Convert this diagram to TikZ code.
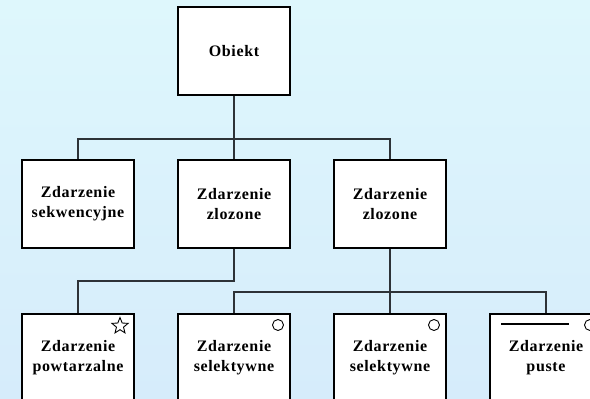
\documentclass[tikz,border=0pt]{standalone}
\usepackage{fontspec}
\setmainfont{Liberation Serif}
\usetikzlibrary{shapes.geometric}
\definecolor{bgtop}{RGB}{222,247,252}
\definecolor{bgbottom}{RGB}{214,236,251}
\definecolor{linegray}{RGB}{45,50,55}
\newcommand{\evfont}{\bfseries\fontsize{16}{20}\selectfont\addfontfeatures{LetterSpace=4}}

\begin{document}
\begin{tikzpicture}[x=1pt,y=-1pt,
   box/.style={draw,fill=white,line width=1.2pt,minimum width=112pt,minimum height=88pt,
               inner sep=0pt,align=center,font=\evfont},
   link/.style={draw=linegray,line width=1.3pt},
   dot/.style={circle,draw,line width=0.9pt,minimum size=11pt,inner sep=0pt}]
   \clip (0,0) rectangle (590,399);
   \shade[top color=bgtop,bottom color=bgbottom] (0,0) rectangle (590,399);
   \node (v0) at (234, 51) [box] {Obiekt};
   \node (v1) at ( 78,204) [box] {Zdarzenie\\sekwencyjne};
   \node (v2) at (234,204) [box] {Zdarzenie\\zlozone};
   \node (v3) at (390,204) [box] {Zdarzenie\\zlozone};
   \node (v4) at ( 78,358) [box] {Zdarzenie\\powtarzalne};
   \node (v5) at (234,358) [box] {Zdarzenie\\selektywne};
   \node (v6) at (390,358) [box] {Zdarzenie\\selektywne};
   \node (v7) at (546,358) [box] {Zdarzenie\\puste};
   \coordinate (h0) at (234,139);
   \coordinate (h1) at (234,281);
   \coordinate (h2) at (390,292);
   \draw[link] (v0) -- (v2);
   \draw[link] (v1.north) |- (h0) -| (v3.north);
   \draw[link] (v2) -- (h1) -| (v4.north);
   \draw[link] (v3) -- (v6);
   \draw[link] (v5.north) |- (h2) -| (v7.north);
   \node (s4) at (120,326) [star,star points=5,star point ratio=2.3,draw,line width=0.9pt,
                            minimum size=17pt,inner sep=0pt] {};
   \node (c5) at (278,325) [dot] {};
   \node (c6) at (434,325) [dot] {};
   \node (c7) at (590,325) [dot] {};
   \draw[line width=1.2pt] (501,324) -- (569,324);
\end{tikzpicture}
\end{document}
